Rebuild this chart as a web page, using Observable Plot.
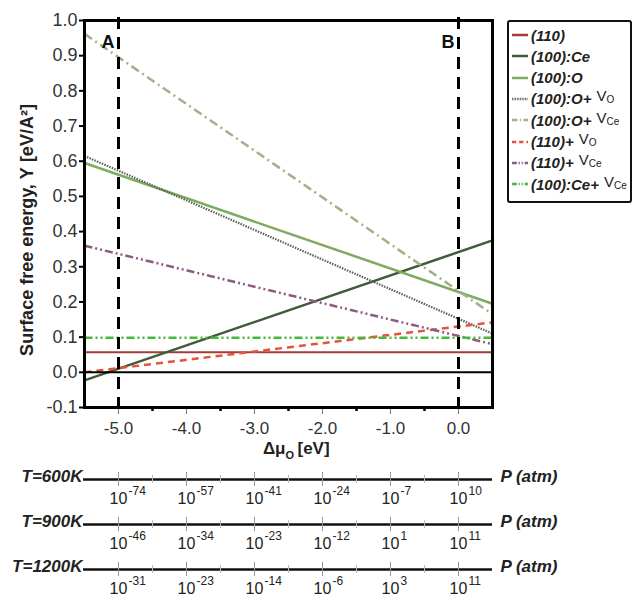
<!DOCTYPE html>
<html>
<head>
<meta charset="utf-8">
<script src="https://cdn.jsdelivr.net/npm/d3@7"></script>
<script src="https://cdn.jsdelivr.net/npm/@observablehq/plot@0.6"></script>
<style>
  html, body { margin: 0; padding: 0; background: white; }
  #wrap { position: relative; width: 634px; height: 597px; font-family: "Liberation Sans", Arial, sans-serif; }
  #wrap svg { display: block; }
  #legend { position: absolute; left: 507px; top: 20px; width: 121px; height: 179px; border: 2px solid #111; border-radius: 3px; background: white; }
  .row { position: absolute; left: 3px; height: 18px; display: flex; align-items: center; white-space: nowrap; }
  .row svg { margin-right: 3px; }
  .lab { font-weight: bold; font-style: italic; font-size: 15px; color: #222; }
  .v { font-weight: normal; font-style: normal; font-size: 15px; margin-left: 5px; position: relative; top: -3px; color: #222; }
  .v sub { font-size: 10px; position: relative; top: 2px; vertical-align: baseline; }
</style>
</head>
<body>
<div id="wrap">
  <div id="main"></div>
  <div id="press"></div>
  <div id="legend"></div>
</div>
<script>
// ---- data ----
const xEnds = [-5.5, 0.5];                 // Δμ_O range of each line (eV)
const seriesNames = ["(110)", "(100):Ce", "(100):O", "(100):O+", "(100):O+", "(110)+", "(110)+", "(100):Ce+"];
const seriesVac = ["", "", "", "O", "Ce", "O", "Ce", "Ce"];
const s110 = [0.057, 0.057];
const s100Ce = [-0.023, 0.375];
const s100O = [0.595, 0.195];
const s100O_VO = [0.615, 0.110];
const s100O_VCe = [0.962, 0.165];
const s110_VO = [0.000, 0.142];
const s110_VCe = [0.360, 0.080];
const s100Ce_VCe = [0.098, 0.098];
const seriesValues = [s110, s100Ce, s100O, s100O_VO, s100O_VCe, s110_VO, s110_VCe, s100Ce_VCe];
const seriesColors = ["#a23c3c", "#3e5c38", "#7eab62", "#5a6256", "#a2af88", "#e4533a", "#8e5a80", "#46b83a"];
const seriesDash = [null, null, null, "1.5,1.2", "9,4,2,4", "7,5", "8,3,2,3,2,3", "8,3,2,3,2,3"];
const seriesWidth = [2, 2.5, 2.5, 2.2, 2.5, 2.5, 2.5, 2.5];

const yTicks = [-0.1, 0.0, 0.1, 0.2, 0.3, 0.4, 0.5, 0.6, 0.7, 0.8, 0.9, 1.0];
const xMajor = [-5, -4, -3, -2, -1, 0];
const xMinor = [-4.5, -3.5, -2.5, -1.5, -0.5];
const markerX = [-5, 0];
const markerLabels = ["A", "B"];
const yLabel = "Surface free energy, Υ [eV/A²]";

const tempLabels = ["T=600K", "T=900K", "T=1200K"];
const pressTickX = [-5, -4, -3, -2, -1, 0];
const pExp600 = [-74, -57, -41, -24, -7, 10];
const pExp900 = [-46, -34, -23, -12, 1, 11];
const pExp1200 = [-31, -23, -14, -6, 3, 11];
const pExps = [pExp600, pExp900, pExp1200];

// ---- main chart ----
const lineRows = [];
seriesValues.forEach((vals, i) => vals.forEach((v, j) => lineRows.push({s: i, x: xEnds[j], y: v})));

const font = "Liberation Sans, Arial, sans-serif";
const fmt1 = d => d.toFixed(1);
const lineMarks = seriesValues.map((_, i) =>
  Plot.line(lineRows.filter(d => d.s === i), {
    x: "x", y: "y", stroke: seriesColors[i], strokeWidth: seriesWidth[i],
    strokeDasharray: seriesDash[i] || undefined, strokeLinecap: "butt"
  })
);

const main = Plot.plot({
  width: 634, height: 460,
  marginTop: 20, marginLeft: 84, marginRight: 142, marginBottom: 53,
  x: {domain: xEnds},
  y: {domain: [-0.1, 1.0]},
  style: {fontFamily: font, fontSize: "16px", background: "white", color: "#222", overflow: "visible"},
  marks: [
    Plot.axisY({ticks: yTicks, tickFormat: fmt1, tickSize: 5, tickPadding: 2, strokeWidth: 2, stroke: "black", fill: "#333", fontSize: 18, label: null, style: {letterSpacing: "1.5px"}}),
    Plot.axisX({ticks: xMajor, tickFormat: fmt1, tickSize: 7, tickPadding: 7, strokeWidth: 1, stroke: "#777", fill: "#333", fontSize: 17, label: null}),
    Plot.axisX({ticks: xMinor, tickFormat: () => "", tickSize: 4, strokeWidth: 2.5, stroke: "black", label: null}),
    ...lineMarks,
    Plot.ruleY([0], {stroke: "black", strokeWidth: 2}),
    Plot.ruleX(markerX, {stroke: "black", strokeWidth: 3, strokeDasharray: "12,8", insetTop: -3}),
    Plot.text(markerX, {x: d => d, text: (d, i) => markerLabels[i], frameAnchor: "top", lineAnchor: "middle", textAnchor: "end", dx: -4, dy: 22, fontWeight: "bold", fontSize: 18, fill: "#111"}),
    Plot.text([yLabel], {frameAnchor: "left", rotate: -90, textAnchor: "middle", lineAnchor: "middle", dx: -57, dy: 16, fontWeight: "bold", fontSize: 18, fill: "#222"}),
    Plot.text(["Δμ"], {frameAnchor: "bottom", textAnchor: "end", lineAnchor: "middle", dx: -3, dy: 41, fontWeight: "bold", fontSize: 17, fill: "#222"}),
    Plot.text(["O"], {frameAnchor: "bottom", textAnchor: "start", lineAnchor: "middle", dx: -3, dy: 48, fontWeight: "bold", fontSize: 11, fill: "#222"}),
    Plot.text(["[eV]"], {frameAnchor: "bottom", textAnchor: "start", lineAnchor: "middle", dx: 9, dy: 41, fontWeight: "bold", fontSize: 17, fill: "#222"}),
    Plot.frame({stroke: "black", strokeWidth: 3})
  ]
});
document.getElementById("main").appendChild(main);

// ---- pressure axes ----
const pRows = [];
tempLabels.forEach((t, k) => pressTickX.forEach((x, i) => pRows.push({T: t, x, e: pExps[k][i]})));
const minorRows = [];
tempLabels.forEach(t => xMinor.forEach(x => minorRows.push({T: t, x})));

const press = Plot.plot({
  width: 634, height: 137,
  marginTop: 19, marginBottom: 28, marginLeft: 84, marginRight: 142,
  x: {domain: xEnds, axis: null},
  y: {type: "point", domain: tempLabels, axis: null, padding: 0},
  style: {fontFamily: font, background: "white", color: "#222", overflow: "visible"},
  marks: [
    Plot.ruleY(tempLabels, {y: d => d, stroke: "#111", strokeWidth: 2.5, insetLeft: -1}),
    Plot.ruleX(pRows, {x: "x", y1: "T", y2: "T", insetTop: -7, insetBottom: -7, stroke: "#999", strokeWidth: 1}),
    Plot.ruleX(minorRows, {x: "x", y1: "T", y2: "T", insetTop: -4, insetBottom: -4, stroke: "#bbb", strokeWidth: 1}),
    Plot.text(pRows, {x: "x", y: "T", text: () => "10", textAnchor: "middle", lineAnchor: "middle", dy: 19, fontSize: 16, fill: "#222"}),
    Plot.text(pRows, {x: "x", y: "T", text: d => String(d.e), textAnchor: "start", lineAnchor: "middle", dx: 10, dy: 12, fontSize: 12, fill: "#222"}),
    Plot.text(tempLabels, {y: d => d, frameAnchor: "left", textAnchor: "end", lineAnchor: "middle", dx: -2, dy: -3, fontWeight: "bold", fontStyle: "italic", fontSize: 17, fill: "#222"}),
    Plot.text(tempLabels, {y: d => d, text: () => "P (atm)", frameAnchor: "right", textAnchor: "start", lineAnchor: "middle", dx: 8, dy: -3, fontWeight: "bold", fontStyle: "italic", fontSize: 17, fill: "#222"})
  ]
});
document.getElementById("press").appendChild(press);

// ---- legend (HTML) ----
const legend = document.getElementById("legend");
seriesNames.forEach((name, i) => {
  const row = document.createElement("div");
  row.className = "row";
  row.style.top = (4 + i * 21.3) + "px";
  const dash = seriesDash[i] ? `stroke-dasharray="${seriesDash[i].split(",").map(v => +v * 0.6).join(",")}"` : "";
  row.innerHTML = `<svg width="16" height="10"><line x1="0" y1="5" x2="16" y2="5" stroke="${seriesColors[i]}" stroke-width="2.5" ${dash}/></svg>` +
    `<span class="lab">${name}</span>` +
    (seriesVac[i] ? `<span class="v">V<sub>${seriesVac[i]}</sub></span>` : "");
  legend.appendChild(row);
});
</script>
</body>
</html>
